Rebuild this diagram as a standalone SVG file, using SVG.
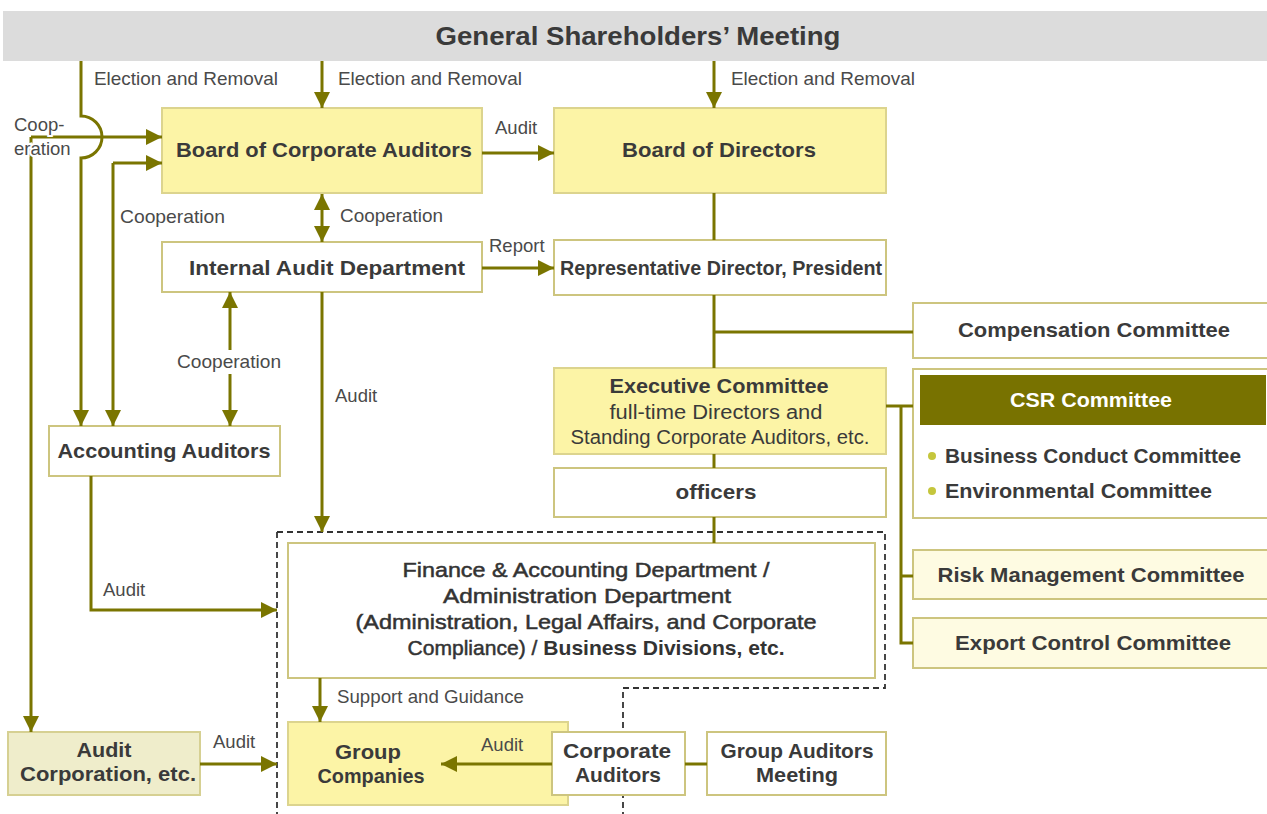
<svg xmlns="http://www.w3.org/2000/svg" width="1267" height="814" viewBox="0 0 1267 814">
<style>
  .box{fill:#fff;stroke:#cdc57f;stroke-width:2}
  .ybox{fill:#fcf4a6;stroke:#dcd48e;stroke-width:2}
  .lbox{fill:#fefbe2;stroke:#cdc57f;stroke-width:2}
  .t{font-family:"Liberation Sans",Arial,sans-serif;font-weight:bold;font-size:21px;fill:#3a3a3a;text-anchor:middle}
  .s{font-family:"Liberation Sans",Arial,sans-serif;font-size:20px;fill:#3a3a3a;text-anchor:middle}
  .m{font-family:"Liberation Sans",Arial,sans-serif;font-size:21px;fill:#333;stroke:#333;stroke-width:0.5;text-anchor:middle}
  .lb{font-family:"Liberation Sans",Arial,sans-serif;font-size:18.5px;fill:#4a4a4a}
  .halo{stroke:#fff;stroke-width:4;paint-order:stroke}
  .ln{fill:none;stroke:#7a7500;stroke-width:3}
  .ar{marker-end:url(#ah)}
  .da{marker-end:url(#ah);marker-start:url(#ah)}
  .dash{fill:none;stroke:#333;stroke-width:1.8;stroke-dasharray:6,4}
</style>
<defs>
  <marker id="ah" markerUnits="userSpaceOnUse" markerWidth="16" markerHeight="16" viewBox="0 0 16 16" refX="16" refY="8" orient="auto-start-reverse">
    <path d="M0,0 L16,8 L0,16 z" fill="#7a7500"/>
  </marker>
</defs>
<rect width="1267" height="814" fill="#fff"/>

<g id="dashed-boundary">
  <path class="dash" d="M277,532 H885 V688 H623 V814"/>
  <path class="dash" d="M277,532 V814"/>
</g>

<g id="shareholders">
  <rect x="3" y="11" width="1264" height="50" fill="#dcdcdc"/>
  <text class="t" x="638" y="45" style="font-size:26px" textLength="405" lengthAdjust="spacingAndGlyphs">General Shareholders’ Meeting</text>
</g>

<g id="board-auditors">
  <rect class="ybox" x="162" y="108" width="320" height="85"/>
  <text class="t" x="324" y="157" textLength="296" lengthAdjust="spacingAndGlyphs">Board of Corporate Auditors</text>
</g>
<g id="board-directors">
  <rect class="ybox" x="554" y="108" width="332" height="85"/>
  <text class="t" x="719" y="157" textLength="194" lengthAdjust="spacingAndGlyphs">Board of Directors</text>
</g>
<g id="internal-audit">
  <rect class="box" x="162" y="242" width="320" height="50"/>
  <text class="t" x="327" y="275" textLength="276" lengthAdjust="spacingAndGlyphs">Internal Audit Department</text>
</g>
<g id="president">
  <rect class="box" x="554" y="240" width="332" height="55"/>
  <text class="t" x="721" y="275" textLength="322" lengthAdjust="spacingAndGlyphs">Representative Director, President</text>
</g>
<g id="compensation">
  <rect class="box" x="913" y="303" width="360" height="55"/>
  <text class="t" x="1094" y="337" textLength="272" lengthAdjust="spacingAndGlyphs">Compensation Committee</text>
</g>
<g id="executive">
  <rect class="ybox" x="554" y="368" width="332" height="86"/>
  <text class="t" x="719" y="393" textLength="219" lengthAdjust="spacingAndGlyphs">Executive Committee</text>
  <text class="s" x="716" y="419" textLength="213" lengthAdjust="spacingAndGlyphs">full-time Directors and</text>
  <text class="s" x="720" y="444" textLength="299" lengthAdjust="spacingAndGlyphs">Standing Corporate Auditors, etc.</text>
</g>
<g id="officers">
  <rect class="box" x="554" y="468" width="332" height="49"/>
  <text class="t" x="716" y="499" textLength="81" lengthAdjust="spacingAndGlyphs">officers</text>
</g>
<g id="csr">
  <rect class="box" x="913" y="369" width="360" height="149"/>
  <rect x="920" y="375" width="346" height="50" fill="#787200"/>
  <text class="t" x="1091" y="407" style="fill:#fff" textLength="162" lengthAdjust="spacingAndGlyphs">CSR Committee</text>
  <circle cx="932" cy="456" r="4" fill="#c5c63c"/>
  <circle cx="932" cy="491" r="4" fill="#c5c63c"/>
  <text class="t" x="945" y="463" style="text-anchor:start" textLength="296" lengthAdjust="spacingAndGlyphs">Business Conduct Committee</text>
  <text class="t" x="945" y="498" style="text-anchor:start" textLength="267" lengthAdjust="spacingAndGlyphs">Environmental Committee</text>
</g>
<g id="risk">
  <rect class="lbox" x="913" y="550" width="360" height="49"/>
  <text class="t" x="1091" y="582" textLength="307" lengthAdjust="spacingAndGlyphs">Risk Management Committee</text>
</g>
<g id="export">
  <rect class="lbox" x="913" y="618" width="360" height="50"/>
  <text class="t" x="1093" y="650" textLength="276" lengthAdjust="spacingAndGlyphs">Export Control Committee</text>
</g>
<g id="accounting-auditors">
  <rect class="box" x="49" y="426" width="231" height="50"/>
  <text class="t" x="164" y="458" textLength="213" lengthAdjust="spacingAndGlyphs">Accounting Auditors</text>
</g>
<g id="finance">
  <rect class="box" x="288" y="543" width="587" height="135"/>
  <text class="m" x="586" y="577" textLength="367" lengthAdjust="spacingAndGlyphs">Finance &amp; Accounting Department /</text>
  <text class="m" x="587" y="603" textLength="288" lengthAdjust="spacingAndGlyphs">Administration Department</text>
  <text class="m" x="586" y="629" textLength="461" lengthAdjust="spacingAndGlyphs">(Administration, Legal Affairs, and Corporate</text>
  <text class="m" x="596" y="655" textLength="377" lengthAdjust="spacingAndGlyphs">Compliance) / <tspan style="font-weight:bold;stroke-width:0">Business Divisions, etc.</tspan></text>
</g>
<g id="audit-corporation">
  <rect x="8" y="732" width="192" height="63" fill="#efedcb" stroke="#d6d092" stroke-width="2"/>
  <text class="t" x="104" y="757" textLength="55" lengthAdjust="spacingAndGlyphs">Audit</text>
  <text class="t" x="108" y="781" textLength="176" lengthAdjust="spacingAndGlyphs">Corporation, etc.</text>
</g>
<g id="group-companies">
  <rect class="ybox" x="288" y="722" width="280" height="83"/>
  <text class="t" x="368" y="759" textLength="66" lengthAdjust="spacingAndGlyphs">Group</text>
  <text class="t" x="371" y="783" textLength="107" lengthAdjust="spacingAndGlyphs">Companies</text>
</g>
<g id="corporate-auditors">
  <rect class="box" x="552" y="732" width="133" height="63"/>
  <text class="t" x="617" y="758" textLength="108" lengthAdjust="spacingAndGlyphs">Corporate</text>
  <text class="t" x="618" y="782" textLength="86" lengthAdjust="spacingAndGlyphs">Auditors</text>
</g>
<g id="group-auditors-meeting">
  <rect class="box" x="707" y="732" width="179" height="63"/>
  <text class="t" x="797" y="758" textLength="153" lengthAdjust="spacingAndGlyphs">Group Auditors</text>
  <text class="t" x="797" y="782" textLength="82" lengthAdjust="spacingAndGlyphs">Meeting</text>
</g>

<g id="connectors">
  <path class="ln ar" d="M81,61 V116 A21,21 0 0 1 81,158 V426"/>
  <path class="ln ar" d="M322,61 V108"/>
  <path class="ln ar" d="M714,61 V108"/>
  <path class="ln ar" d="M31,137 H162"/>
  <path class="ln ar" d="M31,137 V732"/>
  <path class="ln ar" d="M113,163 H162"/>
  <path class="ln ar" d="M113,163 V426"/>
  <path class="ln ar" d="M482,153 H554"/>
  <path class="ln da" d="M322,194 V242"/>
  <path class="ln ar" d="M482,268 H554"/>
  <path class="ln" d="M714,193 V240"/>
  <path class="ln" d="M714,295 V368"/>
  <path class="ln" d="M714,332 H913"/>
  <path class="ln" d="M714,454 V468"/>
  <path class="ln" d="M714,517 V543"/>
  <path class="ln" d="M886,406 H913"/>
  <path class="ln" d="M901,406 V643 H913"/>
  <path class="ln" d="M901,576 H913"/>
  <path class="ln da" d="M230,292 V426"/>
  <path class="ln ar" d="M322,292 V532"/>
  <path class="ln ar" d="M91,476 V610 H277"/>
  <path class="ln ar" d="M320,678 V722"/>
  <path class="ln ar" d="M200,764 H277"/>
  <path class="ln ar" d="M552,764 H441"/>
  <path class="ln" d="M685,764 H707"/>
</g>

<g id="labels">
  <text class="lb" x="94" y="85" textLength="184" lengthAdjust="spacingAndGlyphs">Election and Removal</text>
  <text class="lb" x="338" y="85" textLength="184" lengthAdjust="spacingAndGlyphs">Election and Removal</text>
  <text class="lb" x="731" y="85" textLength="184" lengthAdjust="spacingAndGlyphs">Election and Removal</text>
  <text class="lb halo" x="14" y="131">Coop-</text>
  <text class="lb halo" x="14" y="155">eration</text>
  <text class="lb" x="495" y="134">Audit</text>
  <text class="lb" x="120" y="223" textLength="105" lengthAdjust="spacingAndGlyphs">Cooperation</text>
  <text class="lb" x="340" y="222" textLength="103" lengthAdjust="spacingAndGlyphs">Cooperation</text>
  <text class="lb" x="489" y="252">Report</text>
  <rect x="175" y="350" width="108" height="24" fill="#fff"/>
  <text class="lb" x="229" y="368" style="text-anchor:middle" textLength="104" lengthAdjust="spacingAndGlyphs">Cooperation</text>
  <text class="lb" x="335" y="402">Audit</text>
  <text class="lb" x="103" y="596">Audit</text>
  <text class="lb" x="337" y="703" textLength="187" lengthAdjust="spacingAndGlyphs">Support and Guidance</text>
  <text class="lb" x="213" y="748">Audit</text>
  <text class="lb" x="481" y="751">Audit</text>
</g>
</svg>
